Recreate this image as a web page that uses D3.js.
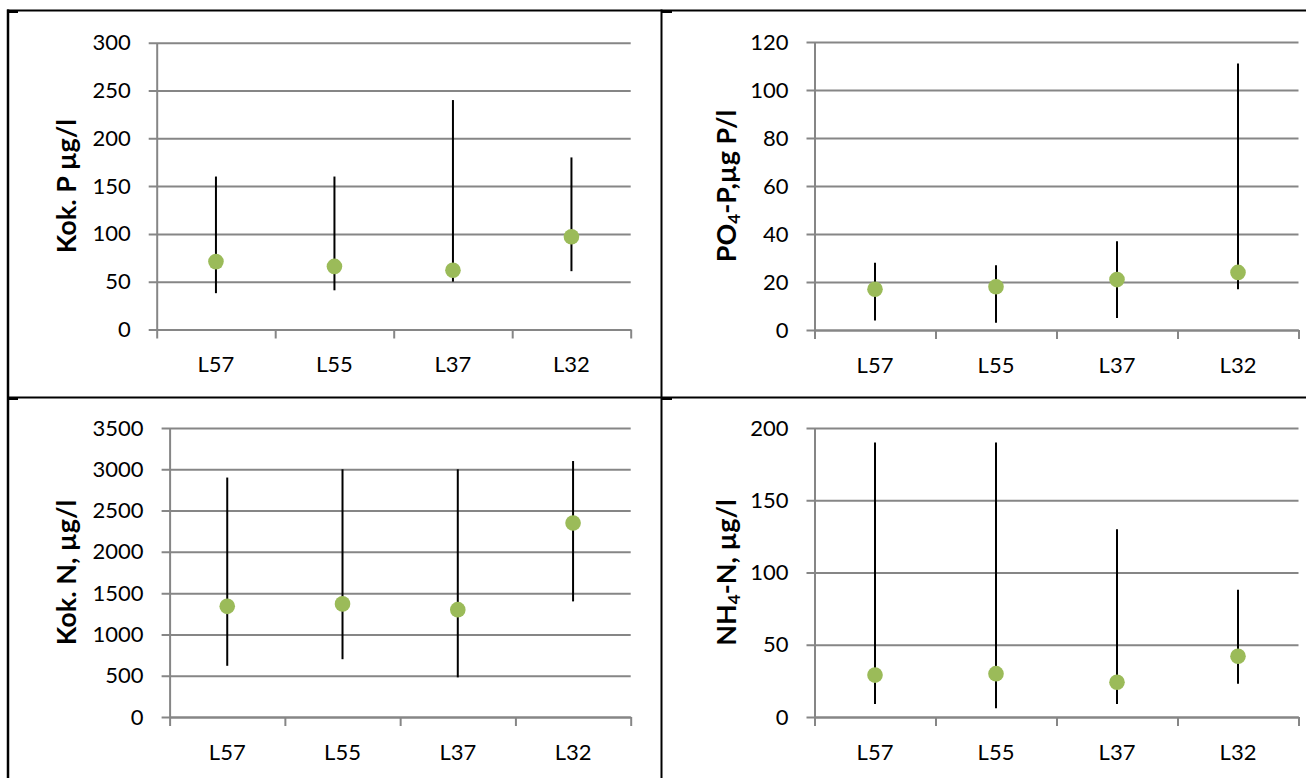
<!DOCTYPE html>
<html>
<head>
<meta charset="utf-8">
<script src="https://cdn.jsdelivr.net/npm/d3@7"></script>
<style>
  html, body { margin: 0; padding: 0; background: #fff; }
  svg { display: block; }
  text { font-family: Lato, "Open Sans", sans-serif; fill: #000; }
</style>
</head>
<body>
<svg id="chart" width="1306" height="778"></svg>
<script>
// ---- data ----
const categories = ["L57", "L55", "L37", "L32"];

const totPMean = [71, 66, 62, 97];
const totPMin  = [38, 41, 50, 61];
const totPMax  = [160, 160, 240, 180];
const totPTicks = [0, 50, 100, 150, 200, 250, 300];

const po4Mean = [17, 18, 21, 24];
const po4Min  = [4, 3, 5, 17];
const po4Max  = [28, 27, 37, 111];
const po4Ticks = [0, 20, 40, 60, 80, 100, 120];

const totNMean = [1340, 1370, 1300, 2350];
const totNMin  = [620, 700, 480, 1400];
const totNMax  = [2900, 3000, 3000, 3100];
const totNTicks = [0, 500, 1000, 1500, 2000, 2500, 3000, 3500];

const nh4Mean = [29, 30, 24, 42];
const nh4Min  = [9, 6, 9, 23];
const nh4Max  = [190, 190, 130, 88];
const nh4Ticks = [0, 50, 100, 150, 200];

// ---- layout ----
const svg = d3.select("#chart");
const gridColor = "#868686";
const dotColor = "#9BBB59";

const panels = [
  { mean: totPMean, min: totPMin, max: totPMax, ticks: totPTicks,
    x0: 156.7, x1: 630.7, yTop: 42.7, yBot: 329.5, titleX: 76,
    title: [["Kok. P µg/l", false]] },
  { mean: po4Mean, min: po4Min, max: po4Max, ticks: po4Ticks,
    x0: 814.5, x1: 1298.5, yTop: 42.0, yBot: 330, titleX: 736,
    title: [["PO", false], ["4", true], ["-P,µg P/l", false]] },
  { mean: totNMean, min: totNMin, max: totNMax, ticks: totNTicks,
    x0: 169.6, x1: 630.7, yTop: 428, yBot: 717, titleX: 76,
    title: [["Kok. N, µg/l", false]] },
  { mean: nh4Mean, min: nh4Min, max: nh4Max, ticks: nh4Ticks,
    x0: 814.5, x1: 1298.5, yTop: 428, yBot: 717, titleX: 736,
    title: [["NH", false], ["4", true], ["-N, µg/l", false]] }
];

// ---- table borders ----
const borders = svg.append("g").attr("stroke", "#000").attr("stroke-width", 2);
borders.append("line").attr("x1", 7).attr("x2", 1306).attr("y1", 10.5).attr("y2", 10.5);
borders.append("line").attr("x1", 7).attr("x2", 1306).attr("y1", 397.5).attr("y2", 397.5);
borders.append("line").attr("x1", 8).attr("x2", 8).attr("y1", 9.5).attr("y2", 778).attr("stroke-width", 2.5);
borders.append("line").attr("x1", 661.5).attr("x2", 661.5).attr("y1", 9.5).attr("y2", 778);
// small cell-corner marks
[[8, 12], [662, 12], [8, 399], [662, 399]].forEach(([x, y]) => {
  borders.append("line").attr("x1", x).attr("x2", x + 10).attr("y1", y).attr("y2", y).attr("stroke-width", 2);
});

panels.forEach(p => {
  const g = svg.append("g");
  const w = p.x1 - p.x0;
  const yMax = p.ticks[p.ticks.length - 1];
  const y = d3.scaleLinear().domain([0, yMax]).range([p.yBot, p.yTop]);
  const x = d3.scaleBand().domain(categories).range([p.x0, p.x1]).padding(0);
  const xb = d3.scaleLinear().domain([0, categories.length]).range([p.x0, p.x1]);

  // gridlines (extend 8px left as tick marks)
  const grid = g.append("g").attr("transform", `translate(${p.x0 - 8},0)`)
    .call(d3.axisLeft(y).tickValues(p.ticks).tickSize(-(w + 8)).tickFormat(""));
  grid.select(".domain").remove();
  grid.selectAll("line").attr("stroke", gridColor).attr("stroke-width", 2);

  // y axis labels + vertical axis line
  const ya = g.append("g").attr("transform", `translate(${p.x0},0)`)
    .call(d3.axisLeft(y).tickValues(p.ticks).tickFormat(d3.format("d"))
      .tickSize(8).tickSizeOuter(0).tickPadding(18));
  ya.select(".domain").attr("stroke", gridColor).attr("stroke-width", 2);
  ya.selectAll(".tick line").remove();
  ya.selectAll("text").style("font-size", "22px").style("font-family", "Lato, sans-serif").attr("fill", "#000");

  // x axis boundary ticks
  const xt = g.append("g").attr("transform", `translate(0,${p.yBot})`)
    .call(d3.axisBottom(xb).tickValues(d3.range(categories.length + 1)).tickSize(9).tickSizeOuter(0).tickFormat(""));
  xt.select(".domain").attr("stroke", gridColor).attr("stroke-width", 2);
  xt.selectAll("line").attr("stroke", gridColor).attr("stroke-width", 2);

  // x labels
  const xl = g.append("g").attr("transform", `translate(0,${p.yBot})`)
    .call(d3.axisBottom(x).tickSize(0).tickPadding(27));
  xl.select(".domain").remove();
  xl.selectAll("text").style("font-size", "22px").style("font-family", "Lato, sans-serif").attr("fill", "#000");

  // y title
  const t = g.append("text")
    .attr("transform", `translate(${p.titleX},${(p.yTop + p.yBot) / 2}) rotate(-90)`)
    .attr("text-anchor", "middle")
    .style("font-size", "27px").style("font-weight", "bold");
  p.title.forEach(([s, sub]) => {
    const ts = t.append("tspan").text(s);
    if (sub) ts.attr("baseline-shift", "-25%").style("font-size", "17px");
  });

  // error bars (min-max)
  g.append("g").selectAll("line").data(categories).join("line")
    .attr("x1", d => x(d) + x.bandwidth() / 2)
    .attr("x2", d => x(d) + x.bandwidth() / 2)
    .attr("y1", (d, i) => y(p.min[i]))
    .attr("y2", (d, i) => y(p.max[i]))
    .attr("stroke", "#000").attr("stroke-width", 2);

  // mean dots
  g.append("g").selectAll("circle").data(categories).join("circle")
    .attr("cx", d => x(d) + x.bandwidth() / 2)
    .attr("cy", (d, i) => y(p.mean[i]))
    .attr("r", 7.8)
    .attr("fill", dotColor);
});
</script>
</body>
</html>
